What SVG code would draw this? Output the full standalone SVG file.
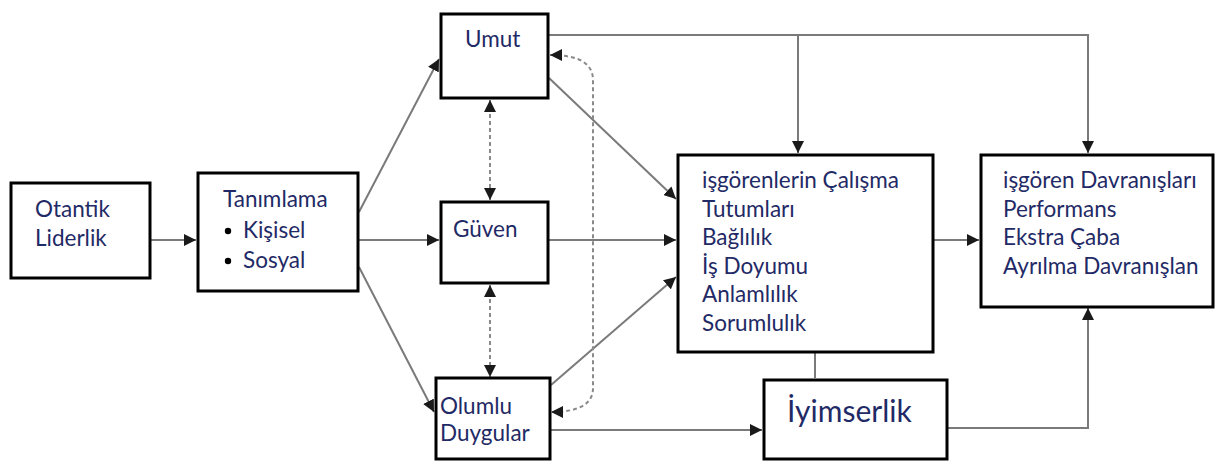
<svg xmlns="http://www.w3.org/2000/svg" width="1219" height="461" viewBox="0 0 1219 461">
  <style>
    .box { fill: #ffffff; stroke: #000000; stroke-width: 3; }
    .lbl { font-family: Lato, "Open Sans", sans-serif; font-size: 22.5px; fill: #1f2a66; }
    .big { font-size: 30px; }
    .con { fill: none; stroke: #7a7a7a; stroke-width: 2; }
    .dash { fill: none; stroke: #8a8a8a; stroke-width: 2; stroke-dasharray: 4 3; }
  </style>
  <defs>
    <marker id="arr" viewBox="0 0 10 10" refX="10" refY="5" markerWidth="12" markerHeight="12" markerUnits="userSpaceOnUse" orient="auto">
      <path d="M0,0 L10,5 L0,10 z" fill="#1a1a1a"/>
    </marker>
    <marker id="arrS" viewBox="0 0 10 10" refX="10" refY="5" markerWidth="12" markerHeight="12" markerUnits="userSpaceOnUse" orient="auto-start-reverse">
      <path d="M0,0 L10,5 L0,10 z" fill="#1a1a1a"/>
    </marker>
  </defs>

  <!-- connectors -->
  <g id="connectors">
    <line class="con" x1="150" y1="240" x2="196" y2="240" marker-end="url(#arr)"/>
    <line class="con" x1="359" y1="212" x2="439" y2="59" marker-end="url(#arr)"/>
    <line class="con" x1="359" y1="240" x2="439" y2="240" marker-end="url(#arr)"/>
    <line class="con" x1="359" y1="267" x2="434" y2="412" marker-end="url(#arr)"/>
    <line class="con" x1="549" y1="78" x2="676" y2="199" marker-end="url(#arr)"/>
    <line class="con" x1="549" y1="240" x2="676" y2="240" marker-end="url(#arr)"/>
    <line class="con" x1="551" y1="385" x2="676" y2="277" marker-end="url(#arr)"/>
    <line class="con" x1="551" y1="430" x2="762" y2="430" marker-end="url(#arr)"/>
    <line class="con" x1="934" y1="240" x2="979" y2="240" marker-end="url(#arr)"/>
    <polyline class="con" points="549,35 1088,35 1088,153" marker-end="url(#arr)"/>
    <line class="con" x1="798" y1="35" x2="798" y2="153" marker-end="url(#arr)"/>
    <polyline class="con" points="948,428 1088,428 1088,308" marker-end="url(#arr)"/>
    <line class="con" x1="815" y1="353" x2="815" y2="378"/>
    <line class="dash" x1="490" y1="100" x2="490" y2="200" marker-start="url(#arrS)" marker-end="url(#arr)"/>
    <line class="dash" x1="490" y1="285" x2="490" y2="377" marker-start="url(#arrS)" marker-end="url(#arr)"/>
    <path class="dash" d="M550,55 Q593,55 593,80 L593,388 Q593,412 551,412" marker-start="url(#arrS)" marker-end="url(#arr)"/>
  </g>

  <g id="otantik">
    <rect class="box" x="11" y="183" width="139" height="95"/>
    <text class="lbl" x="35" y="217">Otantik</text>
    <text class="lbl" x="35" y="246">Liderlik</text>
  </g>

  <g id="tanimlama">
    <rect class="box" x="198" y="173" width="160" height="118"/>
    <text class="lbl" x="223" y="207">Tanımlama</text>
    <circle cx="228" cy="231" r="3.2" fill="#000"/>
    <text class="lbl" x="243" y="238">Kişisel</text>
    <circle cx="228" cy="261" r="3.2" fill="#000"/>
    <text class="lbl" x="243" y="268">Sosyal</text>
  </g>

  <g id="umut">
    <rect class="box" x="441" y="14" width="107" height="84"/>
    <text class="lbl" x="465" y="47">Umut</text>
  </g>

  <g id="guven">
    <rect class="box" x="441" y="202" width="107" height="81"/>
    <text class="lbl" x="453" y="237">Güven</text>
  </g>

  <g id="olumlu">
    <rect class="box" x="436" y="378" width="114" height="81"/>
    <text class="lbl" x="440" y="414">Olumlu</text>
    <text class="lbl" x="440" y="441">Duygular</text>
  </g>

  <g id="calisma-tutumlari">
    <rect class="box" x="678" y="155" width="255" height="197"/>
    <text class="lbl" x="702" y="188">işgörenlerin Çalışma</text>
    <text class="lbl" x="702" y="217">Tutumları</text>
    <text class="lbl" x="702" y="245">Bağlılık</text>
    <text class="lbl" x="702" y="274">İş Doyumu</text>
    <text class="lbl" x="702" y="302">Anlamlılık</text>
    <text class="lbl" x="702" y="331">Sorumlulık</text>
  </g>

  <g id="davranislar">
    <rect class="box" x="981" y="155" width="232" height="152"/>
    <text class="lbl" x="1003" y="188">işgören Davranışları</text>
    <text class="lbl" x="1003" y="217">Performans</text>
    <text class="lbl" x="1003" y="245">Ekstra Çaba</text>
    <text class="lbl" x="1003" y="274">Ayrılma Davranışlan</text>
  </g>

  <g id="iyimserlik">
    <rect class="box" x="764" y="380" width="183" height="79"/>
    <text class="lbl big" x="787" y="422">İyimserlik</text>
  </g>
</svg>
